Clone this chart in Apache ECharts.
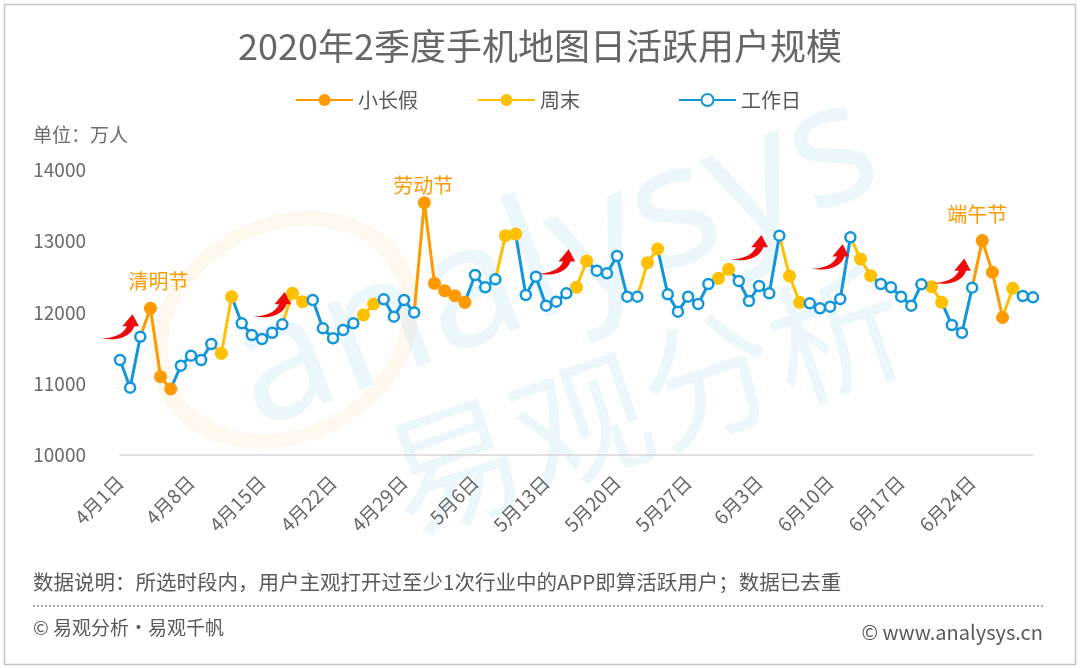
<!DOCTYPE html>
<html>
<head>
<meta charset="utf-8">
<script src="https://cdn.jsdelivr.net/npm/echarts@6/dist/echarts.min.js"></script>
<style>html,body{margin:0;padding:0;background:#fff}#c{width:1080px;height:668px}</style>
</head>
<body>
<div id="c"></div>
<script>
const categories = [
'4月1日','4月2日','4月3日','4月4日','4月5日','4月6日','4月7日','4月8日','4月9日','4月10日',
'4月11日','4月12日','4月13日','4月14日','4月15日','4月16日','4月17日','4月18日','4月19日','4月20日',
'4月21日','4月22日','4月23日','4月24日','4月25日','4月26日','4月27日','4月28日','4月29日','4月30日',
'5月1日','5月2日','5月3日','5月4日','5月5日','5月6日','5月7日','5月8日','5月9日','5月10日',
'5月11日','5月12日','5月13日','5月14日','5月15日','5月16日','5月17日','5月18日','5月19日','5月20日',
'5月21日','5月22日','5月23日','5月24日','5月25日','5月26日','5月27日','5月28日','5月29日','5月30日',
'5月31日','6月1日','6月2日','6月3日','6月4日','6月5日','6月6日','6月7日','6月8日','6月9日',
'6月10日','6月11日','6月12日','6月13日','6月14日','6月15日','6月16日','6月17日','6月18日','6月19日',
'6月20日','6月21日','6月22日','6月23日','6月24日','6月25日','6月26日','6月27日','6月28日','6月29日',
'6月30日'];

const values = [
11333,10945,11660,12059,11099,10926,11254,11394,11333,11558,
11427,12222,11848,11684,11628,11716,11834,12269,12152,12175,
11778,11637,11754,11848,11965,12119,12185,11942,12175,12000,
13541,12409,12306,12236,12143,12526,12353,12466,13078,13102,
12246,12503,12096,12152,12269,12353,12723,12587,12550,12793,
12222,12222,12699,12891,12255,12012,12222,12119,12400,12480,
12606,12442,12161,12372,12269,13078,12512,12143,12129,12059,
12082,12189,13055,12751,12517,12400,12353,12222,12096,12395,
12363,12143,11825,11716,12349,13009,12564,11930,12339,12232,
12213];

// H = 小长假, W = 周末, D = 工作日
const dayTypes = [
'D','D','D','H','H','H','D','D','D','D',
'W','W','D','D','D','D','D','W','W','D',
'D','D','D','D','W','W','D','D','D','D',
'H','H','H','H','H','D','D','D','W','W',
'D','D','D','D','D','W','W','D','D','D',
'D','D','W','W','D','D','D','D','D','W',
'W','D','D','D','D','D','W','W','D','D',
'D','D','D','W','W','D','D','D','D','D',
'W','W','D','D','D','H','H','H','W','D',
'D'];

const seriesNames = ['小长假', '周末', '工作日'];
const seriesCodes = ['H', 'W', 'D'];
const festivals = [['4月4日', '清明节'], ['5月1日', '劳动节'], ['6月25日', '端午节']];
const arrowMarks = [['4月1日', 11800], ['4月16日', 12110], ['5月14日', 12710], ['6月2日', 12910], ['6月10日', 12780], ['6月22日', 12580]];

const yTicks = { min: 10000, max: 14000, interval: 1000 };

// styles
const colors = { H: '#FF9900', W: '#FFC000', D: '#1296DB' };
const festivalOffsets = { '清明节': [8, -27], '劳动节': [-1, -17], '端午节': [-5, -26] };
const FONT = '"Noto Sans CJK SC","Noto Sans",sans-serif';
const arrowPath = 'path://M0,30 C12,30 24,26 28,15 L23,15 L34,0 L41,15 L36,15 C32,29 16,34 0,30 Z';

function lineData(code) {
  return values.map((v, i) =>
    (dayTypes[i] === code || (i + 1 < values.length && dayTypes[i + 1] === code)) ? v : null);
}
function pointData(code) {
  return values.map((v, i) => dayTypes[i] === code ? v : '-');
}

const series = [];
seriesCodes.forEach((code, k) => {
  const s = {
    name: seriesNames[k],
    type: 'line',
    data: lineData(code),
    showSymbol: false,
    symbol: code === 'D' ? 'emptyCircle' : 'circle',
    symbolSize: 12,
    connectNulls: false,
    z: 2,
    lineStyle: { color: colors[code], width: 3 },
    itemStyle: { color: colors[code] },
    silent: true
  };
  if (code === 'D') {
    s.markPoint = {
      silent: true,
      symbol: arrowPath,
      symbolSize: [38, 33],
      symbolKeepAspect: true,
      itemStyle: { color: '#EE0A0A' },
      label: { show: false },
      data: arrowMarks.map(a => ({ coord: a }))
    };
  }
  series.push(s);
});
seriesCodes.forEach((code, k) => {
  const s = {
    name: seriesNames[k] + '点',
    type: 'scatter',
    data: pointData(code),
    symbol: 'circle',
    symbolSize: code === 'D' ? 10 : 13,
    z: 3,
    silent: true,
    itemStyle: code === 'D'
      ? { color: '#fff', borderColor: colors[code], borderWidth: 2.5, opacity: 1 }
      : { color: colors[code], opacity: 1 }
  };
  if (code === 'H') {
    s.markPoint = {
      silent: true,
      symbol: 'circle',
      symbolSize: 1,
      itemStyle: { color: 'rgba(0,0,0,0)' },
      data: festivals.map(f => ({
        coord: [f[0], values[categories.indexOf(f[0])]],
        label: {
          show: true, position: 'inside', formatter: f[1],
          color: '#FF9900', fontSize: 20, fontFamily: FONT,
          offset: festivalOffsets[f[1]]
        }
      }))
    };
  }
  series.push(s);
});

const legendBase = {
  top: 85, itemWidth: 57, itemHeight: 15, itemGap: 5,
  textStyle: { fontSize: 20, color: '#595959', fontFamily: FONT },
  selectedMode: false
};

const chart = echarts.init(document.getElementById('c'), null, { renderer: 'canvas' });
chart.setOption({
  animation: false,
  backgroundColor: '#fff',
  textStyle: { fontFamily: FONT },
  title: {
    text: '2020年2季度手机地图日活跃用户规模',
    left: 'center', top: 23,
    textStyle: { fontSize: 36, color: '#666666', fontWeight: 'normal', fontFamily: FONT }
  },
  legend: [
    Object.assign({}, legendBase, { left: 290, data: ['小长假'] }),
    Object.assign({}, legendBase, { left: 472, data: ['周末'] }),
    Object.assign({}, legendBase, { left: 673, data: ['工作日'] })
  ],
  grid: { left: 120, right: 47, top: 170, bottom: 213, containLabel: false },
  xAxis: {
    type: 'category',
    data: categories,
    boundaryGap: false,
    axisLine: { lineStyle: { color: '#d6d6d6', width: 1.5 } },
    axisTick: { show: false },
    splitLine: { show: false },
    axisLabel: { interval: 6, rotate: 45, fontSize: 19, color: '#666666', margin: 24, fontFamily: FONT }
  },
  yAxis: {
    type: 'value',
    min: yTicks.min, max: yTicks.max, interval: yTicks.interval,
    axisLine: { show: false },
    axisTick: { show: false },
    splitLine: { show: false },
    axisLabel: { fontSize: 19, color: '#6b6b6b', margin: 34, fontFamily: FONT, formatter: v => String(v) }
  },
  graphic: [
    { type: 'circle', z: -10, silent: true, x: 285, y: 330, scaleX: 1.25, rotation: 0.5,
      shape: { cx: 0, cy: 0, r: 105 },
      style: { fill: 'none', stroke: 'rgba(255,150,20,0.07)', lineWidth: 14 } },
    { type: 'text', z: -10, silent: true, x: 555, y: 262, rotation: 0.37,
      style: { text: 'analysys', font: '170px "Noto Sans", sans-serif', fill: 'rgba(40,160,220,0.085)',
        textAlign: 'center', textVerticalAlign: 'middle' } },
    { type: 'text', z: -10, silent: true, x: 645, y: 400, rotation: 0.33,
      style: { text: '易观分析', font: '135px "Noto Sans CJK SC", sans-serif', fill: 'rgba(40,160,220,0.085)',
        textAlign: 'center', textVerticalAlign: 'middle' } },
    { type: 'rect', silent: true, shape: { x: 4.5, y: 4.5, width: 1071, height: 660 },
      style: { fill: 'none', stroke: '#c4c4c4', lineWidth: 1.5 } },
    { type: 'text', silent: true, x: 33, y: 135,
      style: { text: '单位：万人', font: '19px ' + FONT, fill: '#6b6b6b', textVerticalAlign: 'middle' } },
    { type: 'text', silent: true, x: 33, y: 582,
      style: { text: '数据说明：所选时段内，用户主观打开过至少1次行业中的APP即算活跃用户；数据已去重',
        font: '20.5px ' + FONT, fill: '#595959', textVerticalAlign: 'middle' } },
    { type: 'line', silent: true, shape: { x1: 33, y1: 606, x2: 1043, y2: 606 },
      style: { stroke: '#8c8c8c', lineWidth: 1.5, lineDash: [2, 2] } },
    { type: 'text', silent: true, x: 33, y: 628,
      style: { text: '© 易观分析·易观千帆', font: '19px ' + FONT, fill: '#595959', textVerticalAlign: 'middle' } },
    { type: 'text', silent: true, x: 1043, y: 632,
      style: { text: '© www.analysys.cn', font: '20px ' + FONT, fill: '#595959',
        textAlign: 'right', textVerticalAlign: 'middle' } }
  ],
  series: series
});
</script>
</body>
</html>
